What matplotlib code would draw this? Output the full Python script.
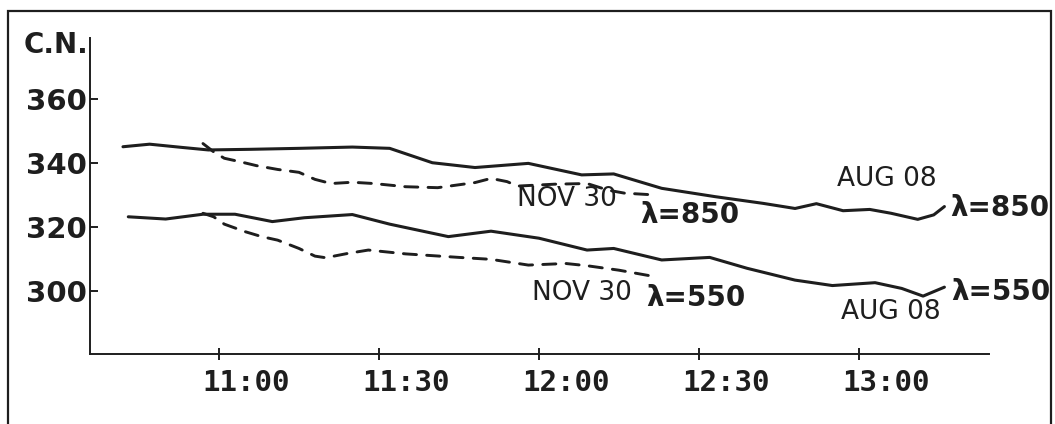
import matplotlib
matplotlib.use("Agg")
import matplotlib.pyplot as plt
import matplotlib.transforms as mtransforms
from matplotlib.patches import Rectangle


def to_hours(t):
    h, m = t.split(":")
    return int(h) + int(m) / 60.0


# AUG 08, lambda = 850 (solid, upper)
aug850_t = ["10:42", "10:47", "10:53", "10:58", "11:06", "11:15", "11:25", "11:32",
            "11:40", "11:48", "11:58", "12:08", "12:14", "12:23", "12:33", "12:42",
            "12:48", "12:52", "12:57", "13:02", "13:06", "13:11", "13:14", "13:16"]
aug850_v = [345.1, 345.9, 344.9, 344.1, 344.3, 344.6, 345.0, 344.6,
            340.1, 338.6, 339.9, 336.3, 336.6, 332.1, 329.5, 327.4,
            325.8, 327.3, 325.1, 325.5, 324.3, 322.4, 323.8, 326.4]

# AUG 08, lambda = 550 (solid, lower)
aug550_t = ["10:43", "10:50", "10:57", "11:03", "11:10", "11:16", "11:25", "11:32",
            "11:43", "11:51", "12:00", "12:09", "12:14", "12:23", "12:32", "12:39",
            "12:48", "12:55", "13:03", "13:08", "13:12", "13:16"]
aug550_v = [323.2, 322.5, 324.0, 324.0, 321.7, 322.9, 323.9, 320.9,
            317.0, 318.7, 316.5, 312.8, 313.3, 309.7, 310.5, 307.1,
            303.4, 301.7, 302.6, 300.8, 298.4, 301.2]

# NOV 30, lambda = 850 (dashed, upper)
nov850_t = ["10:57", "10:59", "11:01", "11:04", "11:07", "11:11", "11:15", "11:18",
            "11:21", "11:25", "11:29", "11:35", "11:41", "11:48", "11:51", "11:54",
            "11:56", "12:03", "12:09", "12:13", "12:16", "12:22"]
nov850_v = [346.1, 343.5, 341.5, 340.4, 339.2, 338.0, 337.1, 334.9,
            333.6, 334.0, 333.6, 332.6, 332.3, 333.9, 335.2, 334.2,
            332.8, 333.4, 333.6, 331.5, 330.6, 330.0]

# NOV 30, lambda = 550 (dashed, lower)
nov550_t = ["10:57", "10:59", "11:01", "11:05", "11:08", "11:11", "11:15", "11:18",
            "11:20", "11:24", "11:28", "11:35", "11:45", "11:51", "11:58", "12:05",
            "12:09", "12:15", "12:22"]
nov550_v = [324.3, 323.2, 320.9, 318.5, 317.0, 315.9, 313.3, 310.9,
            310.4, 311.7, 312.8, 311.6, 310.5, 309.9, 308.1, 308.6,
            307.9, 306.5, 304.4]

x_ticks = ["11:00", "11:30", "12:00", "12:30", "13:00"]
y_ticks = [300, 320, 340, 360]

ink = "#1e1e1e"

fig = plt.figure(figsize=(10.55, 4.24), dpi=100)
ax = fig.add_axes([90 / 1055, 1 - 354 / 424, (989 - 90) / 1055, (354 - 38) / 424])

solid = dict(color=ink, lw=2.2, solid_joinstyle="round", solid_capstyle="round")
dashed = dict(color=ink, lw=2.1, dashes=(4.5, 3.5), dash_capstyle="round",
              dash_joinstyle="round")
ax.plot([to_hours(t) for t in aug850_t], aug850_v, **solid)
ax.plot([to_hours(t) for t in aug550_t], aug550_v, **solid)
ax.plot([to_hours(t) for t in nov850_t], nov850_v, **dashed)
ax.plot([to_hours(t) for t in nov550_t], nov550_v, **dashed)

ax.set_xlim(10.597, 13.406)
ax.set_ylim(280.3, 379.1)

for s in ["top", "right"]:
    ax.spines[s].set_visible(False)
for s in ["left", "bottom"]:
    ax.spines[s].set_linewidth(1.4)
    ax.spines[s].set_color(ink)

ax.set_xticks([to_hours(t) for t in x_ticks])
ax.set_xticklabels(x_ticks, family="DejaVu Sans Mono", fontweight="bold",
                   fontsize=21, color=ink)
ax.tick_params(axis="x", direction="inout", length=9, width=1.4, pad=6, colors=ink)
offset = mtransforms.ScaledTranslation(0.27, 0, fig.dpi_scale_trans)
for lbl in ax.get_xticklabels():
    lbl.set_transform(lbl.get_transform() + offset)

ax.set_yticks(y_ticks)
ax.set_yticklabels([str(v) for v in y_ticks], fontweight="bold", fontsize=21,
                   color=ink)
ax.tick_params(axis="y", direction="in", length=6, width=1.4, pad=2, colors=ink)

fig.text(56 / 1055, 1 - 45 / 424, "C.N.", fontsize=20, fontweight="bold",
         color=ink, ha="center", va="center")

# annotations
txt = dict(color=ink, ha="center", va="center", clip_on=False)
ax.text(13.0875, 335.0, "AUG 08", fontsize=19, **txt)
ax.text(13.10, 293.4, "AUG 08", fontsize=19, **txt)
ax.text(12.0875, 328.8, "NOV 30", fontsize=19, **txt)
ax.text(12.134, 299.4, "NOV 30", fontsize=19, **txt)
ax.text(13.44, 325.9, "λ=850", fontsize=20, fontweight="bold", **txt)
ax.text(13.444, 299.7, "λ=550", fontsize=20, fontweight="bold", **txt)
ax.text(12.47, 323.8, "λ=850", fontsize=20, fontweight="bold", **txt)
ax.text(12.49, 297.8, "λ=550", fontsize=20, fontweight="bold", **txt)

# outer frame
fig.patches.append(Rectangle((8 / 1055, -0.05), (1051 - 8) / 1055, 1.05 - 11 / 424,
                             transform=fig.transFigure, fill=False,
                             edgecolor=ink, lw=1.6))

fig.savefig("out.png", dpi=100, facecolor="white")
